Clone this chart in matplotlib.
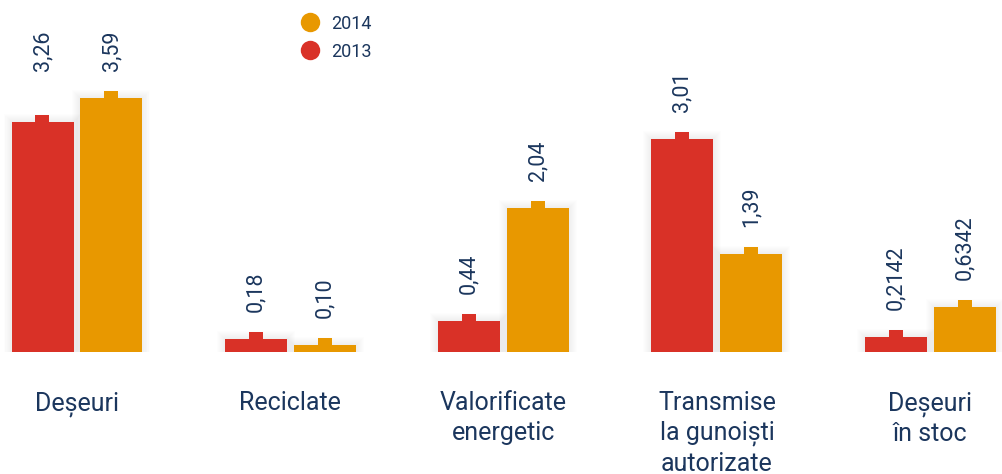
#! /usr/bin/env python3
import numpy as np
import matplotlib
matplotlib.use('Agg')
import matplotlib.pyplot as plt
from matplotlib.lines import Line2D
from matplotlib.patches import Rectangle

# Data
categories = ['Deșeuri', 'Reciclate', 'Valorificate\nenergetic',
              'Transmise\nla gunoiști\nautorizate', 'Deșeuri\nîn stoc']
vals_2013 = [3.26, 0.18, 0.44, 3.01, 0.2142]
vals_2014 = [3.59, 0.10, 2.04, 1.39, 0.6342]
labels_2013 = ['3,26', '0,18', '0,44', '3,01', '0,2142']
labels_2014 = ['3,59', '0,10', '2,04', '1,39', '0,6342']

# Style
red = '#d93127'
orange = '#e89800'
navy = '#1b365d'
plt.rcParams['font.family'] = ['Roboto', 'DejaVu Sans']

W, H = 1003, 474
fig = plt.figure(figsize=(W / 100, H / 100), dpi=100)

# pixel scale: one category step = 213.3 px, one value unit = 70.7 px
px_x = 1 / 213.3
px_y = 1 / 70.7
base_px = 352
ax = fig.add_axes([0, (H - base_px) / H, 1, base_px / H])
ax.set_xlim(-77 * px_x, (W - 77) * px_x)
ax.set_ylim(0, base_px * px_y)
ax.axis('off')

x = np.arange(len(categories))
bw = 62 * px_x
off = 34.5 * px_x
tab_w = 14 * px_x
tab_h = 7 * px_y


def shadow(xc, h):
    # soft grey halo behind a bar
    for i in range(1, 9):
        r = Rectangle((xc - bw / 2 - i * px_x, 0), bw + 2 * i * px_x,
                      h + i * px_y, facecolor='k', alpha=0.009,
                      edgecolor='none', zorder=1, clip_on=False)
        ax.add_patch(r)


# label anchors: first group is aligned to its taller bar
lab13 = list(vals_2013)
lab14 = list(vals_2014)
lab13[0] = lab14[0] = max(vals_2013[0], vals_2014[0])

for xs, vals, labs, anchors, col in [(x - off, vals_2013, labels_2013, lab13, red),
                                     (x + off, vals_2014, labels_2014, lab14, orange)]:
    for xc, v in zip(xs, vals):
        shadow(xc, v)
    ax.bar(xs, vals, width=bw, color=col, zorder=3)
    ax.bar(xs, [tab_h] * len(vals), width=tab_w, bottom=vals, color=col, zorder=3)
    for xc, lab, a in zip(xs, labs, anchors):
        ax.text(xc, a + tab_h + 20 * px_y, lab, rotation=90, ha='center',
                va='bottom', fontsize=15.5, color=navy, clip_on=False)

for xc, cat in zip(x, categories):
    ax.text(xc, -39 * px_y, cat, ha='center', va='top', fontsize=18,
            color=navy, linespacing=1.3, clip_on=False)

handles = [Line2D([], [], marker='o', linestyle='none', markersize=14,
                  markerfacecolor=orange, markeredgecolor='none'),
           Line2D([], [], marker='o', linestyle='none', markersize=14,
                  markerfacecolor=red, markeredgecolor='none')]
fig.legend(handles, ['2014', '2013'], loc='upper left',
           bbox_to_anchor=(279 / W, 1 - 2 / H), frameon=False, fontsize=13,
           labelcolor=navy, handletextpad=0.2, labelspacing=0.55,
           borderaxespad=0.3)

fig.savefig('out.png', dpi=100)
